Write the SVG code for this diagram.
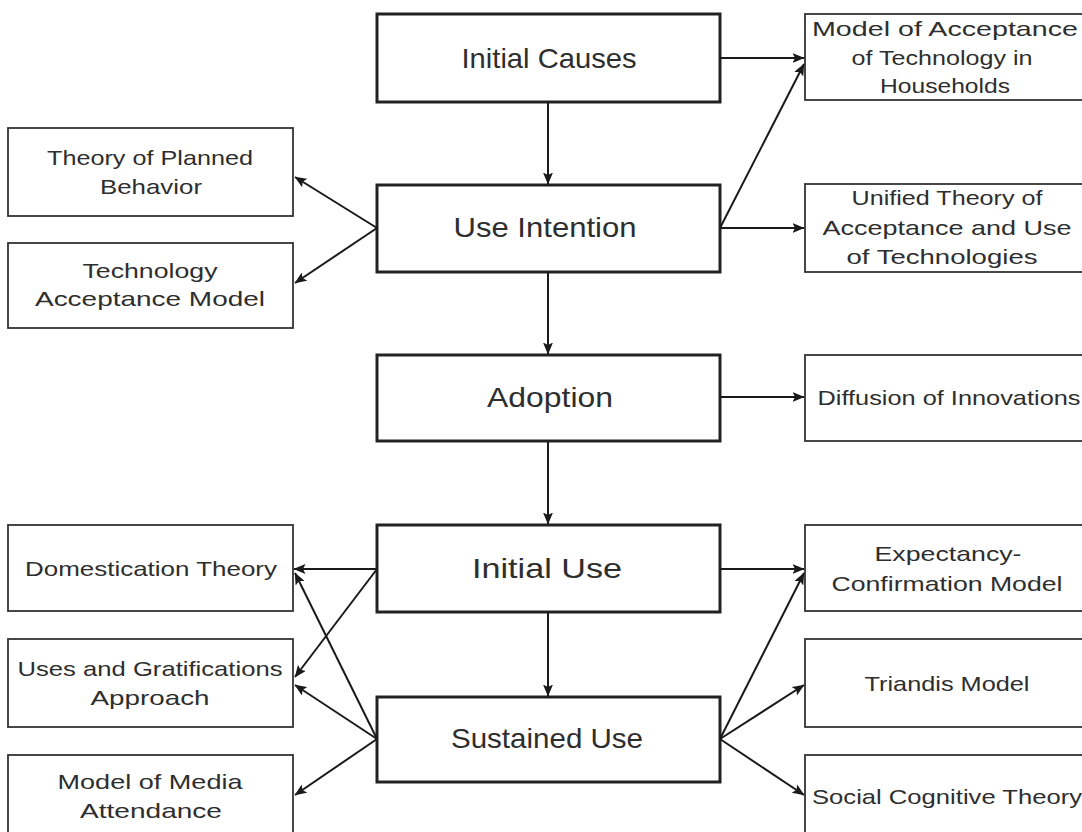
<svg xmlns="http://www.w3.org/2000/svg" width="1082" height="832" viewBox="0 0 1082 832">
  <style>
    .main rect { fill: #fff; stroke: #222; stroke-width: 3; }
    .side rect { fill: #fff; stroke: #333; stroke-width: 1.8; }
    text { font-family: "Liberation Sans", Arial, sans-serif; fill: #2e2e2e; text-anchor: middle; }
    .main text { font-size: 28px; }
    .side text { font-size: 21px; }
    #connectors line { stroke: #1a1a1a; stroke-width: 2; fill: none; marker-end: url(#arrow); }
  </style>
  <defs>
    <marker id="arrow" markerUnits="userSpaceOnUse" markerWidth="12" markerHeight="10" viewBox="0 0 12 10" refX="11.5" refY="5" orient="auto">
      <path d="M0,0 L12,5 L0,10 L2.5,5 Z" fill="#1a1a1a"/>
    </marker>
  </defs>
  <rect width="1082" height="832" fill="#fff"/>

  <!-- central stages -->
  <g id="initial-causes" class="main">
    <rect x="377" y="14" width="343" height="88"/>
    <text x="549" y="68" textLength="175" lengthAdjust="spacingAndGlyphs">Initial Causes</text>
  </g>
  <g id="use-intention" class="main">
    <rect x="377" y="185" width="343" height="87"/>
    <text x="545" y="237" textLength="183" lengthAdjust="spacingAndGlyphs">Use Intention</text>
  </g>
  <g id="adoption" class="main">
    <rect x="377" y="355" width="343" height="86"/>
    <text x="550" y="407" textLength="126" lengthAdjust="spacingAndGlyphs">Adoption</text>
  </g>
  <g id="initial-use" class="main">
    <rect x="377" y="525" width="343" height="87"/>
    <text x="547" y="578" textLength="150" lengthAdjust="spacingAndGlyphs">Initial Use</text>
  </g>
  <g id="sustained-use" class="main">
    <rect x="377" y="697" width="343" height="85"/>
    <text x="547" y="748" textLength="192" lengthAdjust="spacingAndGlyphs">Sustained Use</text>
  </g>

  <!-- left theories -->
  <g id="tpb" class="side">
    <rect x="8" y="128" width="285" height="88"/>
    <text x="150" y="165" textLength="206" lengthAdjust="spacingAndGlyphs">Theory of Planned</text>
    <text x="151" y="194" textLength="102" lengthAdjust="spacingAndGlyphs">Behavior</text>
  </g>
  <g id="tam" class="side">
    <rect x="8" y="243" width="285" height="85"/>
    <text x="150" y="278" textLength="135" lengthAdjust="spacingAndGlyphs">Technology</text>
    <text x="150" y="306" textLength="230" lengthAdjust="spacingAndGlyphs">Acceptance Model</text>
  </g>
  <g id="domestication" class="side">
    <rect x="8" y="525" width="285" height="86"/>
    <text x="151" y="576" textLength="252" lengthAdjust="spacingAndGlyphs">Domestication Theory</text>
  </g>
  <g id="uses-gratifications" class="side">
    <rect x="8" y="639" width="285" height="88"/>
    <text x="150" y="676" textLength="265" lengthAdjust="spacingAndGlyphs">Uses and Gratifications</text>
    <text x="150" y="705" textLength="119" lengthAdjust="spacingAndGlyphs">Approach</text>
  </g>
  <g id="media-attendance" class="side">
    <rect x="8" y="755" width="285" height="90"/>
    <text x="150" y="789" textLength="185" lengthAdjust="spacingAndGlyphs">Model of Media</text>
    <text x="151" y="818" textLength="142" lengthAdjust="spacingAndGlyphs">Attendance</text>
  </g>

  <!-- right theories -->
  <g id="households" class="side">
    <rect x="805" y="14" width="280" height="86"/>
    <text x="945" y="36" textLength="266" lengthAdjust="spacingAndGlyphs">Model of Acceptance</text>
    <text x="942" y="65" textLength="181" lengthAdjust="spacingAndGlyphs">of Technology in</text>
    <text x="945" y="93" textLength="130" lengthAdjust="spacingAndGlyphs">Households</text>
  </g>
  <g id="utaut" class="side">
    <rect x="805" y="184" width="280" height="88"/>
    <text x="947" y="205" textLength="191" lengthAdjust="spacingAndGlyphs">Unified Theory of</text>
    <text x="947" y="235" textLength="249" lengthAdjust="spacingAndGlyphs">Acceptance and Use</text>
    <text x="942" y="264" textLength="191" lengthAdjust="spacingAndGlyphs">of Technologies</text>
  </g>
  <g id="diffusion" class="side">
    <rect x="805" y="355" width="280" height="86"/>
    <text x="949" y="405" textLength="263" lengthAdjust="spacingAndGlyphs">Diffusion of Innovations</text>
  </g>
  <g id="ecm" class="side">
    <rect x="805" y="525" width="280" height="86"/>
    <text x="948" y="561" textLength="147" lengthAdjust="spacingAndGlyphs">Expectancy-</text>
    <text x="947" y="591" textLength="231" lengthAdjust="spacingAndGlyphs">Confirmation Model</text>
  </g>
  <g id="triandis" class="side">
    <rect x="805" y="639" width="280" height="88"/>
    <text x="947" y="691" textLength="165" lengthAdjust="spacingAndGlyphs">Triandis Model</text>
  </g>
  <g id="social-cognitive" class="side">
    <rect x="805" y="755" width="280" height="90"/>
    <text x="947" y="804" textLength="270" lengthAdjust="spacingAndGlyphs">Social Cognitive Theory</text>
  </g>

  <g id="connectors">
    <!-- main sequence -->
    <line x1="548" y1="102" x2="548" y2="184"/>
    <line x1="548" y1="272" x2="548" y2="354"/>
    <line x1="548" y1="441" x2="548" y2="524"/>
    <line x1="548" y1="612" x2="548" y2="696"/>

    <!-- right side -->
    <line x1="720" y1="58" x2="804" y2="58"/>
    <line x1="720" y1="228" x2="804" y2="64"/>
    <line x1="720" y1="228" x2="804" y2="228"/>
    <line x1="720" y1="397" x2="804" y2="397"/>
    <line x1="720" y1="569" x2="804" y2="569"/>
    <line x1="720" y1="739" x2="804" y2="573"/>
    <line x1="720" y1="739" x2="804" y2="685"/>
    <line x1="720" y1="739" x2="804" y2="795"/>

    <!-- left side -->
    <line x1="377" y1="228" x2="295" y2="177"/>
    <line x1="377" y1="228" x2="295" y2="283"/>
    <line x1="377" y1="569" x2="294" y2="569"/>
    <line x1="377" y1="569" x2="295" y2="677"/>
    <line x1="377" y1="739" x2="295" y2="573"/>
    <line x1="377" y1="739" x2="295" y2="685"/>
    <line x1="377" y1="739" x2="295" y2="795"/>
  </g>
</svg>
